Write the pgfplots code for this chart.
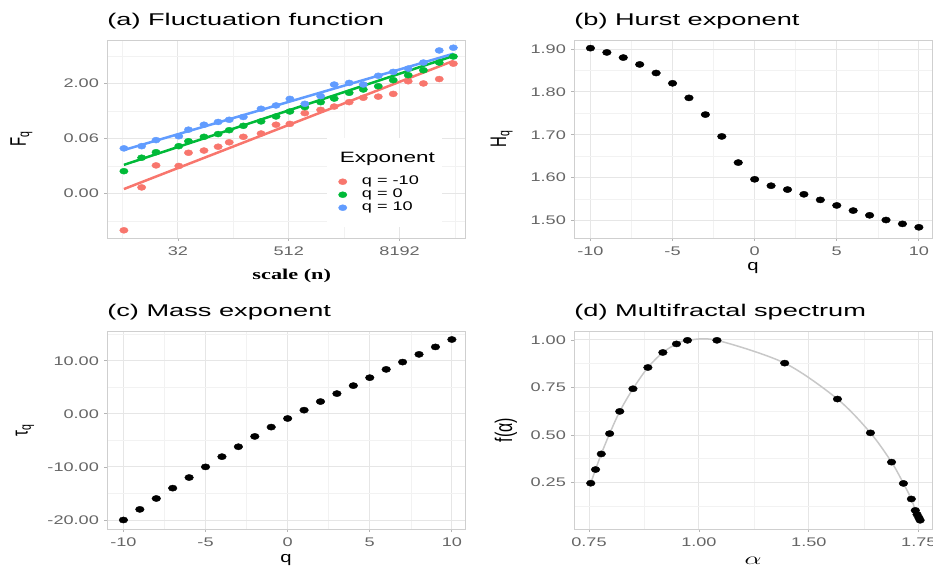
\documentclass[border=0pt]{standalone}
\usepackage{fontspec}
\setmainfont{Liberation Sans}
\newfontfamily\labserif{Liberation Serif}
\usepackage{graphicx}
\usepackage{pgfplots}
\usepackage{pgfplotstable}
\pgfplotsset{compat=1.18}

\definecolor{qred}{HTML}{F8766D}
\definecolor{qgreen}{HTML}{00BA38}
\definecolor{qblue}{HTML}{619CFF}
\definecolor{gridmaj}{HTML}{E6E6E6}
\definecolor{gridmin}{HTML}{F2F2F2}
\definecolor{framegray}{HTML}{CFCFCF}
\definecolor{tickgray}{HTML}{B5B5B5}
\definecolor{ticklab}{HTML}{666666}
\definecolor{curvegray}{HTML}{C8C8C8}

% horizontally widened text
\newcommand{\wide}[2]{\scalebox{#1}[1]{#2}}

% (a) fluctuation function: log2 of the scale, then F_q for q = -10, 0, 10
\pgfplotstableread{
u     r      g      b
3.05  -0.67  0.405  0.82
3.69  0.11   0.65   0.86
4.21  0.51   0.75   0.97
5.03  0.50   0.86   1.04
5.38  0.74   0.95   1.16
5.94  0.78   1.03   1.25
6.45  0.85   1.08   1.30
6.85  0.93   1.15   1.34
7.36  1.03   1.23   1.39
8.00  1.09   1.31   1.54
8.54  1.25   1.40   1.60
9.04  1.265  1.49   1.72
9.58  1.46   1.57   1.63
10.15 1.52   1.66   1.77
10.64 1.58   1.725  1.98
11.18 1.66   1.83   2.01
11.69 1.74   1.89   1.98
12.23 1.76   1.95   2.14
12.77 1.81   2.06   2.21
13.31 2.04   2.15   2.27
13.86 2.00   2.24   2.38
14.43 2.08   2.38   2.60
14.94 2.36   2.49   2.65
}\fluct

% regression lines of the three series
\pgfplotstableread{
u     r     g     b
3.05  0.08  0.52  0.79
14.94 2.41  2.50  2.54
}\fluctfit

% (b), (c) generalized Hurst exponent and mass exponent
\pgfplotstableread{
q    H      tau
-10  1.902  -20.00
-9   1.892  -18.00
-8   1.880  -15.95
-7   1.864  -14.00
-6   1.844  -12.00
-5   1.820  -10.00
-4   1.786  -8.07
-3   1.747  -6.20
-2   1.696  -4.26
-1   1.635  -2.50
0    1.596  -0.88
1    1.581  0.69
2    1.572  2.31
3    1.561  3.81
4    1.548  5.31
5    1.535  6.81
6    1.523  8.37
7    1.512  9.75
8    1.501  11.20
9    1.492  12.60
10   1.484  14.00
}\hurst

% (d) multifractal spectrum
\pgfplotstableread{
a      f
0.754  0.246
0.765  0.318
0.778  0.400
0.797  0.507
0.820  0.624
0.850  0.743
0.884  0.855
0.918  0.934
0.949  0.979
0.974  0.998
1.041  0.998
1.195  0.878
1.315  0.689
1.390  0.511
1.438  0.357
1.465  0.245
1.483  0.163
1.492  0.103
1.496  0.082
1.500  0.065
1.503  0.051
}\spec

\pgfplotsset{
  every axis title/.style={at={(axis description cs:0,1.0732)}, anchor=base west,
    inner sep=0pt, font=\fontsize{17}{20}\selectfont, xscale=1.6},
  panel/.style={
    scale only axis, width=358pt, height=198pt,
    axis line style={framegray, line width=0.9pt},
    grid=both,
    major grid style={gridmaj, line width=0.9pt},
    minor grid style={gridmin, line width=0.6pt},
    tick align=outside, tick pos=left,
    major tick length=3pt, minor tick length=0pt,
    tick style={tickgray, line width=0.8pt},
    tick label style={font=\fontsize{12.5}{14}\selectfont, text=ticklab, xscale=1.45},
    xticklabel style={yshift=-2.5pt},
    xlabel style={anchor=base, inner sep=0pt, font=\fontsize{15}{18}\selectfont, xscale=1.35},
    ylabel style={anchor=base, inner sep=0pt, font=\fontsize{15}{18}\selectfont, yscale=1.5},
  },
  dots/.style={only marks, mark=*, mark size=3.1pt, mark options={xscale=1.4}},
}

\begin{document}
\begin{tikzpicture}[x=1pt,y=1pt]
\useasboundingbox (0,0) rectangle (933,-571);

% (a) Fluctuation function
\begin{axis}[panel, at={(107pt,-40pt)}, anchor=north west,
  xmin=2.44, xmax=15.36, ymin=-0.81, ymax=2.79,
  xtick={5,9,13}, xticklabels={32,512,8192},
  minor xtick={3,7,11,15},
  ytick={0,1,2}, yticklabels={0.00,0.06,2.00},
  minor ytick={-0.5,0.5,1.5,2.5},
  title={(a) Fluctuation function},
  xlabel={\labserif\bfseries scale (n)},
  xlabel style={at={(axis description cs:0.516,-0.212)}, xscale=1.1},
  ylabel={F\textsubscript{q}},
  ylabel style={at={(axis description cs:-0.2263,0.5)}},
  legend cell align=left,
  legend style={at={(axis description cs:0.6145,0.505)}, anchor=north west,
    fill=white, draw=none, inner xsep=7pt, inner ysep=13pt,
    font=\fontsize{12.5}{14}\selectfont, row sep=0pt,
    nodes={inner sep=0pt, text depth=},
    /tikz/every odd column/.append style={column sep=15pt}},
]
\addlegendimage{empty legend}
\addlegendentry{\hspace*{-22pt}\wide{1.5}{\fontsize{15}{16}\selectfont Exponent}\rule[-13pt]{0pt}{24pt}}
\addplot[dots, mark size=3pt, qred] table[x=u, y=r] {\fluct};
\addlegendentry{\wide{1.45}{q = -10}\rule[-3.7pt]{0pt}{13pt}}
\addplot[dots, mark size=3pt, qgreen] table[x=u, y=g] {\fluct};
\addlegendentry{\wide{1.45}{q = 0}\rule[-3.7pt]{0pt}{13pt}}
\addplot[dots, mark size=3pt, qblue] table[x=u, y=b] {\fluct};
\addlegendentry{\wide{1.45}{q = 10}\rule[-3.7pt]{0pt}{13pt}}
\addplot[qred, line width=2.5pt, forget plot] table[x=u, y=r] {\fluctfit};
\addplot[qgreen, line width=2.5pt, forget plot] table[x=u, y=g] {\fluctfit};
\addplot[qblue, line width=2.5pt, forget plot] table[x=u, y=b] {\fluctfit};
\end{axis}

% (b) Hurst exponent
\begin{axis}[panel, at={(574pt,-40pt)}, anchor=north west,
  xmin=-11, xmax=10.8, ymin=1.459, ymax=1.921,
  xtick={-10,-5,0,5,10}, xticklabels={-10,-5,0,5,10},
  minor xtick={-7.5,-2.5,2.5,7.5},
  ytick={1.5,1.6,1.7,1.8,1.9}, yticklabels={1.50,1.60,1.70,1.80,1.90},
  minor ytick={1.55,1.65,1.75,1.85},
  title={(b) Hurst exponent},
  xlabel={q},
  xlabel style={at={(axis description cs:0.5,-0.166)}},
  ylabel={H\textsubscript{q}},
  ylabel style={at={(axis description cs:-0.1899,0.5)}},
]
\addplot[dots, black] table[x=q, y=H] {\hurst};
\end{axis}

% (c) Mass exponent
\begin{axis}[panel, at={(107pt,-331pt)}, anchor=north west,
  xmin=-11, xmax=10.8, ymin=-21.7, ymax=15.6,
  xtick={-10,-5,0,5,10}, xticklabels={-10,-5,0,5,10},
  minor xtick={-7.5,-2.5,2.5,7.5},
  ytick={-20,-10,0,10}, yticklabels={-20.00,-10.00,0.00,10.00},
  minor ytick={-15,-5,5,15},
  title={(c) Mass exponent},
  xlabel={q},
  xlabel style={at={(axis description cs:0.5,-0.169)}},
  ylabel={τ\textsubscript{q}},
  ylabel style={at={(axis description cs:-0.222,0.5)}},
]
\addplot[dots, black] table[x=q, y=tau] {\hurst};
\end{axis}

% (d) Multifractal spectrum
\begin{axis}[panel, at={(574pt,-331pt)}, anchor=north west,
  xmin=0.716, xmax=1.530, ymin=0.005, ymax=1.047,
  xtick={0.75,1,1.25,1.5}, xticklabels={0.75,1.00,1.50,1.75},
  minor xtick={0.875,1.125,1.375},
  ytick={0.25,0.5,0.75,1}, yticklabels={0.25,0.50,0.75,1.00},
  minor ytick={0.125,0.375,0.625,0.875},
  title={(d) Multifractal spectrum},
  xlabel={\smash{$\alpha$}},
  xlabel style={at={(axis description cs:0.5,-0.178)}, xscale=1.15, font=\fontsize{16}{18}\selectfont},
  ylabel={f(α)},
  ylabel style={at={(axis description cs:-0.173,0.5)}, font=\fontsize{16}{18}\selectfont},
]
\addplot[curvegray, line width=1.5pt, smooth] table[x=a, y=f] {\spec};
\addplot[dots, black] table[x=a, y=f] {\spec};
\end{axis}
\end{tikzpicture}
\end{document}
